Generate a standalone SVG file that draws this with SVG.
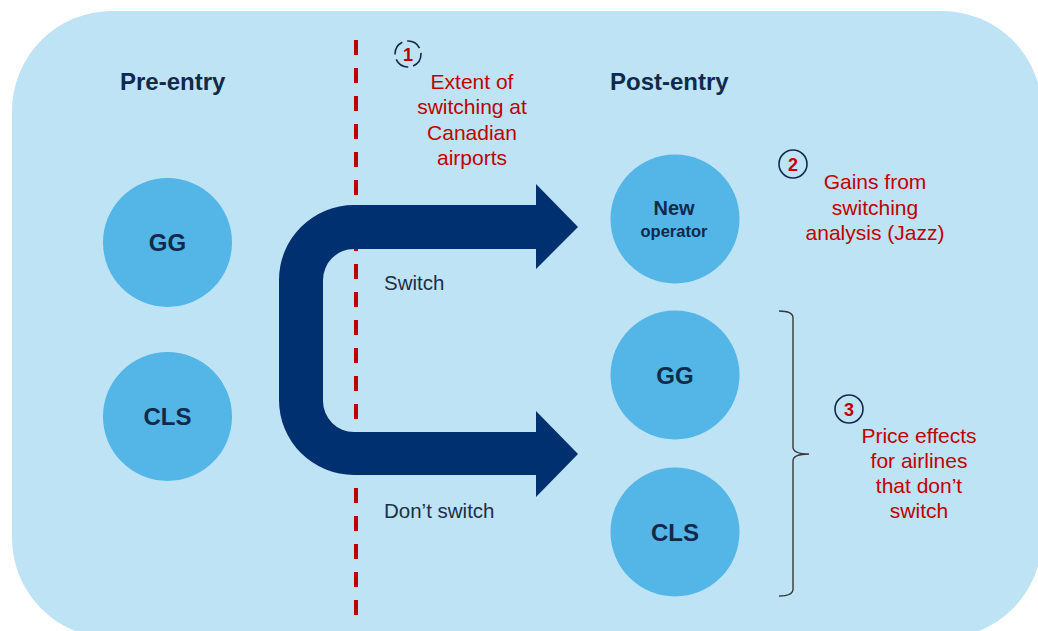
<svg xmlns="http://www.w3.org/2000/svg" width="1038" height="631" viewBox="0 0 1038 631">
  <style>
    .title { font-family: "Liberation Sans", Arial, sans-serif; font-weight: bold; font-size: 24px; fill: #0f2a4c; }
    .node-circle { fill: #54b5e7; }
    .node-label { font-family: "Liberation Sans", Arial, sans-serif; font-weight: bold; fill: #0f2a4c; text-anchor: middle; }
    .note { font-family: "Liberation Sans", Arial, sans-serif; font-size: 21px; fill: #c00000; text-anchor: middle; }
    .flow-label { font-family: "Liberation Sans", Arial, sans-serif; font-size: 20.5px; fill: #1c2e4a; }
    .badge { fill: none; stroke: #13294b; stroke-width: 1.6; }
    .badge-num { font-family: "Liberation Sans", Arial, sans-serif; font-weight: bold; font-size: 18px; fill: #c00000; text-anchor: middle; }
  </style>

  <!-- panel background -->
  <rect x="0" y="0" width="1038" height="631" fill="#ffffff"/>
  <rect x="12" y="11" width="1030" height="627" rx="100" ry="100" fill="#bee3f5"/>

  <!-- section titles -->
  <text class="title" x="120" y="90">Pre-entry</text>
  <text class="title" x="610" y="90">Post-entry</text>

  <g id="connectors">
    <!-- pre/post entry divider -->
    <line x1="356" y1="40" x2="356" y2="618" stroke="#c00000" stroke-width="4" stroke-dasharray="15 13"/>
    <!-- switch / don't switch flow arrow -->
    <path d="M 354 205 L 536 205 L 536 184 L 578 227 L 536 269 L 536 249 L 354 249 A 31 31 0 0 0 323 280 L 323 401 A 31 31 0 0 0 354 432 L 536 432 L 536 411 L 578 454 L 536 497 L 536 475 L 354 475 A 75 75 0 0 1 279 400 L 279 280 A 75 75 0 0 1 354 205 Z" fill="#013070"/>
    <text class="flow-label" x="384" y="290">Switch</text>
    <text class="flow-label" x="384" y="518">Don’t switch</text>
    <!-- bracket grouping remaining airlines -->
    <path d="M 779 311 Q 793 311 793 318 L 793 447 Q 793 454 809 454 Q 793 454 793 461 L 793 589 Q 793 596 779 596" fill="none" stroke="#3a3a3a" stroke-width="1.4"/>
  </g>

  <!-- pre-entry airlines -->
  <g id="pre-gg">
    <circle class="node-circle" cx="167.5" cy="242.5" r="64.5"/>
    <text class="node-label" x="167.5" y="251" font-size="24">GG</text>
  </g>
  <g id="pre-cls">
    <circle class="node-circle" cx="167.5" cy="416.5" r="64.5"/>
    <text class="node-label" x="167.5" y="425" font-size="24">CLS</text>
  </g>

  <!-- post-entry airlines -->
  <g id="post-new">
    <circle class="node-circle" cx="675" cy="219" r="64.5"/>
    <text class="node-label" x="674" y="215" font-size="20">New</text>
    <text class="node-label" x="674" y="237" font-size="16.5">operator</text>
  </g>
  <g id="post-gg">
    <circle class="node-circle" cx="675" cy="375" r="64.5"/>
    <text class="node-label" x="675" y="384" font-size="24">GG</text>
  </g>
  <g id="post-cls">
    <circle class="node-circle" cx="675" cy="532" r="64.5"/>
    <text class="node-label" x="675" y="541" font-size="24">CLS</text>
  </g>

  <!-- analysis notes -->
  <g id="note-1">
    <circle class="badge" cx="408" cy="54" r="13" stroke-dasharray="15 5"/>
    <text class="badge-num" x="408" y="61">1</text>
    <text class="note" x="472" y="89">Extent of</text>
    <text class="note" x="472" y="114">switching at</text>
    <text class="note" x="472" y="140">Canadian</text>
    <text class="note" x="472" y="165">airports</text>
  </g>
  <g id="note-2">
    <circle class="badge" cx="793" cy="164" r="14"/>
    <text class="badge-num" x="793" y="171">2</text>
    <text class="note" x="875" y="189">Gains from</text>
    <text class="note" x="875" y="215">switching</text>
    <text class="note" x="875" y="240">analysis (Jazz)</text>
  </g>
  <g id="note-3">
    <circle class="badge" cx="849" cy="409" r="14"/>
    <text class="badge-num" x="849" y="416">3</text>
    <text class="note" x="919" y="443">Price effects</text>
    <text class="note" x="919" y="468">for airlines</text>
    <text class="note" x="919" y="493">that don’t</text>
    <text class="note" x="919" y="518">switch</text>
  </g>
</svg>
